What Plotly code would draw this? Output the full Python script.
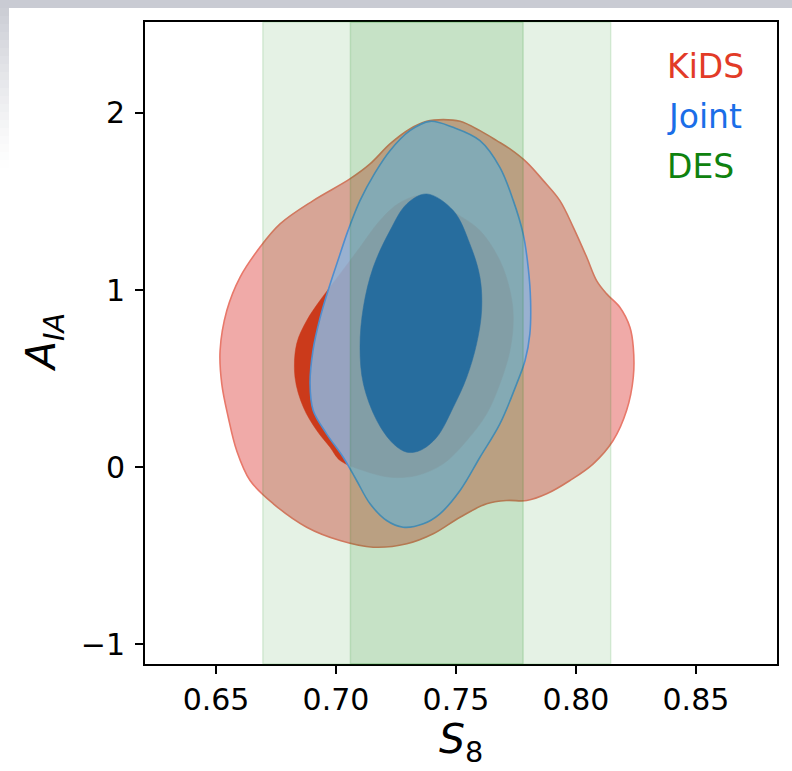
import plotly.graph_objects as go

# ---- DES: S8 constraint (mean and 1/2-sigma half widths) ----
des_s8_mean = 0.742
des_s8_sigma1 = 0.036
des_s8_sigma2 = 0.0725

# ---- KiDS contours in (S8, A_IA) ----
kids_outer_s8 = [0.6524, 0.6517, 0.6545, 0.6600, 0.6683, 0.6767, 0.6905, 0.7058, 0.7142,
                 0.7225, 0.7308, 0.7378, 0.7447, 0.7517, 0.7600, 0.7670, 0.7725, 0.7795,
                 0.7864, 0.7933, 0.7989, 0.8045, 0.8086, 0.8128, 0.8183, 0.8225, 0.8239,
                 0.8239, 0.8211, 0.8155, 0.8072, 0.7975, 0.7878, 0.7795, 0.7711, 0.7628,
                 0.7517, 0.7405, 0.7295, 0.7155, 0.7017, 0.6878, 0.6739, 0.6642, 0.6586,
                 0.6551, 0.6524]
kids_outer_aia = [0.4707, 0.6586, 0.8843, 1.0722, 1.2415, 1.3736, 1.5051, 1.6275, 1.7122,
                  1.8251, 1.9097, 1.9526, 1.9622, 1.9526, 1.9001, 1.8437, 1.7968, 1.7212,
                  1.6179, 1.5051, 1.3544, 1.1851, 1.0536, 0.9786, 0.9029, 0.7901, 0.6772,
                  0.5079, 0.3200, 0.1507, 0.0192, -0.0751, -0.1501, -0.1879, -0.1879, -0.2065,
                  -0.2822, -0.3758, -0.4323, -0.4515, -0.4137, -0.3386, -0.2065, -0.0751, 0.0942,
                  0.2822, 0.4707]

kids_inner_s8 = [0.6829, 0.6836, 0.6878, 0.6933, 0.7017, 0.7100, 0.7183, 0.7267, 0.7364,
                 0.7503, 0.7600, 0.7683, 0.7725, 0.7739, 0.7725, 0.7683, 0.7628, 0.7545,
                 0.7447, 0.7336, 0.7225, 0.7114, 0.7017, 0.6975, 0.6920, 0.6864, 0.6829]
kids_inner_aia = [0.5079, 0.6964, 0.8279, 0.9407, 1.0914, 1.2415, 1.3922, 1.4938, 1.5333,
                  1.4300, 1.3358, 1.1665, 0.9972, 0.8465, 0.6586, 0.4707, 0.3014, 0.1507,
                  0.0192, -0.0468, -0.0564, -0.0186, 0.0378, 0.1129, 0.2071, 0.3386, 0.5079]

# ---- Joint contours in (S8, A_IA) ----
joint_outer_s8 = [0.6892, 0.6904, 0.6933, 0.6967, 0.7008, 0.7050, 0.7100, 0.7163, 0.7225,
                  0.7308, 0.7392, 0.7488, 0.7600, 0.7683, 0.7739, 0.7780, 0.7801, 0.7811,
                  0.7808, 0.7788, 0.7753, 0.7683, 0.7600, 0.7517, 0.7433, 0.7364, 0.7280,
                  0.7211, 0.7142, 0.7086, 0.7030, 0.6961, 0.6905, 0.6892]
joint_outer_aia = [0.4707, 0.6586, 0.8392, 0.9972, 1.1665, 1.3358, 1.5051, 1.6631, 1.7872,
                   1.9001, 1.9526, 1.9187, 1.8437, 1.6930, 1.5051, 1.3172, 1.1287, 0.9407,
                   0.7528, 0.6021, 0.4707, 0.2449, 0.0564, -0.1315, -0.2630, -0.3194, -0.3386,
                   -0.3008, -0.2065, -0.0751, 0.0564, 0.1885, 0.3200, 0.4707]

joint_inner_s8 = [0.7100, 0.7114, 0.7155, 0.7225, 0.7295, 0.7378, 0.7489, 0.7558, 0.7600,
                  0.7607, 0.7586, 0.7545, 0.7489, 0.7420, 0.7350, 0.7295, 0.7239, 0.7170,
                  0.7114, 0.7100]
joint_inner_aia = [0.6772, 0.9029, 1.1287, 1.3358, 1.4865, 1.5429, 1.4486, 1.2607, 1.0722,
                   0.8843, 0.6964, 0.5079, 0.3386, 0.1693, 0.0942, 0.0847, 0.1321, 0.2635,
                   0.4707, 0.6772]

# ---- axes ----
x_range = [0.6204, 0.8838]
y_range = [-1.111, 2.5135]
x_ticks = [0.65, 0.70, 0.75, 0.80, 0.85]
x_ticktext = ["0.65", "0.70", "0.75", "0.80", "0.85"]
y_ticks = [-1, 0, 1, 2]
y_ticktext = ["\u22121", "0", "1", "2"]

legend_names = ["KiDS", "Joint", "DES"]
legend_colors = ["#e23b27", "#1a6ee8", "#0f820f"]

FONT = "DejaVu Sans"

fig = go.Figure()


def contour(xs, ys, fill, line_color, line_width):
    fig.add_trace(go.Scatter(
        x=xs, y=ys, mode="lines", fill="toself", fillcolor=fill,
        line=dict(color=line_color, width=line_width, shape="spline", smoothing=1.0),
        hoverinfo="skip", showlegend=False,
    ))


contour(kids_outer_s8, kids_outer_aia, "#f0aaa8", "#e8786a", 1.6)
contour(kids_inner_s8, kids_inner_aia, "#e2331f", "#e2331f", 0.5)
contour(joint_outer_s8, joint_outer_aia, "rgba(160,184,240,0.88)", "#5a90e6", 1.6)
contour(joint_inner_s8, joint_inner_aia, "#3469cc", "#3469cc", 0.5)

shapes = []
# DES bands drawn over the contours
shapes.append(dict(type="rect", xref="x", yref="paper", layer="above",
                   x0=des_s8_mean - des_s8_sigma2, x1=des_s8_mean + des_s8_sigma2, y0=0, y1=1,
                   fillcolor="rgba(0,128,0,0.10)", line=dict(color="rgba(0,128,0,0.12)", width=1.5)))
shapes.append(dict(type="rect", xref="x", yref="paper", layer="above",
                   x0=des_s8_mean - des_s8_sigma1, x1=des_s8_mean + des_s8_sigma1, y0=0, y1=1,
                   fillcolor="rgba(0,128,0,0.133)", line=dict(color="rgba(0,128,0,0.14)", width=1.5)))

# soft grey frame along the top and upper-left edge of the page
W, H = 792, 771
ML, MR, MT, MB = 145, 15, 22, 107
pw, ph = W - ML - MR, H - MT - MB


def px_to_paper_x(px):
    return (px - ML) / pw


def py_to_paper_y(py):
    return (H - MB - py) / ph


shapes.append(dict(type="rect", xref="paper", yref="paper", layer="below",
                   x0=px_to_paper_x(0), x1=px_to_paper_x(W), y0=py_to_paper_y(8), y1=py_to_paper_y(0),
                   fillcolor="#c9cbd3", line=dict(width=0)))
n_steps = 20
for i in range(n_steps):
    a = 0.95 * (1 - i / n_steps) ** 1.3
    shapes.append(dict(type="rect", xref="paper", yref="paper", layer="below",
                       x0=px_to_paper_x(0), x1=px_to_paper_x(9),
                       y0=py_to_paper_y(8 + 8 * (i + 1)), y1=py_to_paper_y(8 + 8 * i),
                       fillcolor=f"rgba(201,203,211,{a:.3f})", line=dict(width=0)))

annotations = []
for i, (name, col) in enumerate(zip(legend_names, legend_colors)):
    annotations.append(dict(text=name, xref="paper", yref="paper",
                            x=px_to_paper_x(665), y=py_to_paper_y(67 + 50 * i),
                            xanchor="left", yanchor="middle", showarrow=False,
                            font=dict(family=FONT, size=33, color=col)))

annotations.append(dict(text="<i>S</i><sub>8</sub>", xref="paper", yref="paper",
                        x=0.5, y=py_to_paper_y(742), xanchor="center", yanchor="middle",
                        showarrow=False, font=dict(family=FONT, size=41, color="black")))
annotations.append(dict(text="<i>A</i><sub><i>IA</i></sub>", xref="paper", yref="paper",
                        x=px_to_paper_x(44), y=0.5, xanchor="center", yanchor="middle",
                        textangle=-90, showarrow=False,
                        font=dict(family=FONT, size=41, color="black")))

axis_common = dict(showline=True, linewidth=2, linecolor="black", mirror=True,
                   ticks="outside", ticklen=8, tickwidth=2, tickcolor="black",
                   showgrid=False, zeroline=False,
                   tickfont=dict(family=FONT, size=30, color="black"))

fig.update_layout(
    width=W, height=H,
    margin=dict(l=ML, r=MR, t=MT, b=MB),
    paper_bgcolor="white", plot_bgcolor="white",
    xaxis=dict(range=x_range, tickvals=x_ticks, ticktext=x_ticktext, **axis_common),
    yaxis=dict(range=y_range, tickvals=y_ticks, ticktext=y_ticktext, ticklabelstandoff=4,
               **axis_common),
    shapes=shapes, annotations=annotations,
)

fig.write_html("out.html")
